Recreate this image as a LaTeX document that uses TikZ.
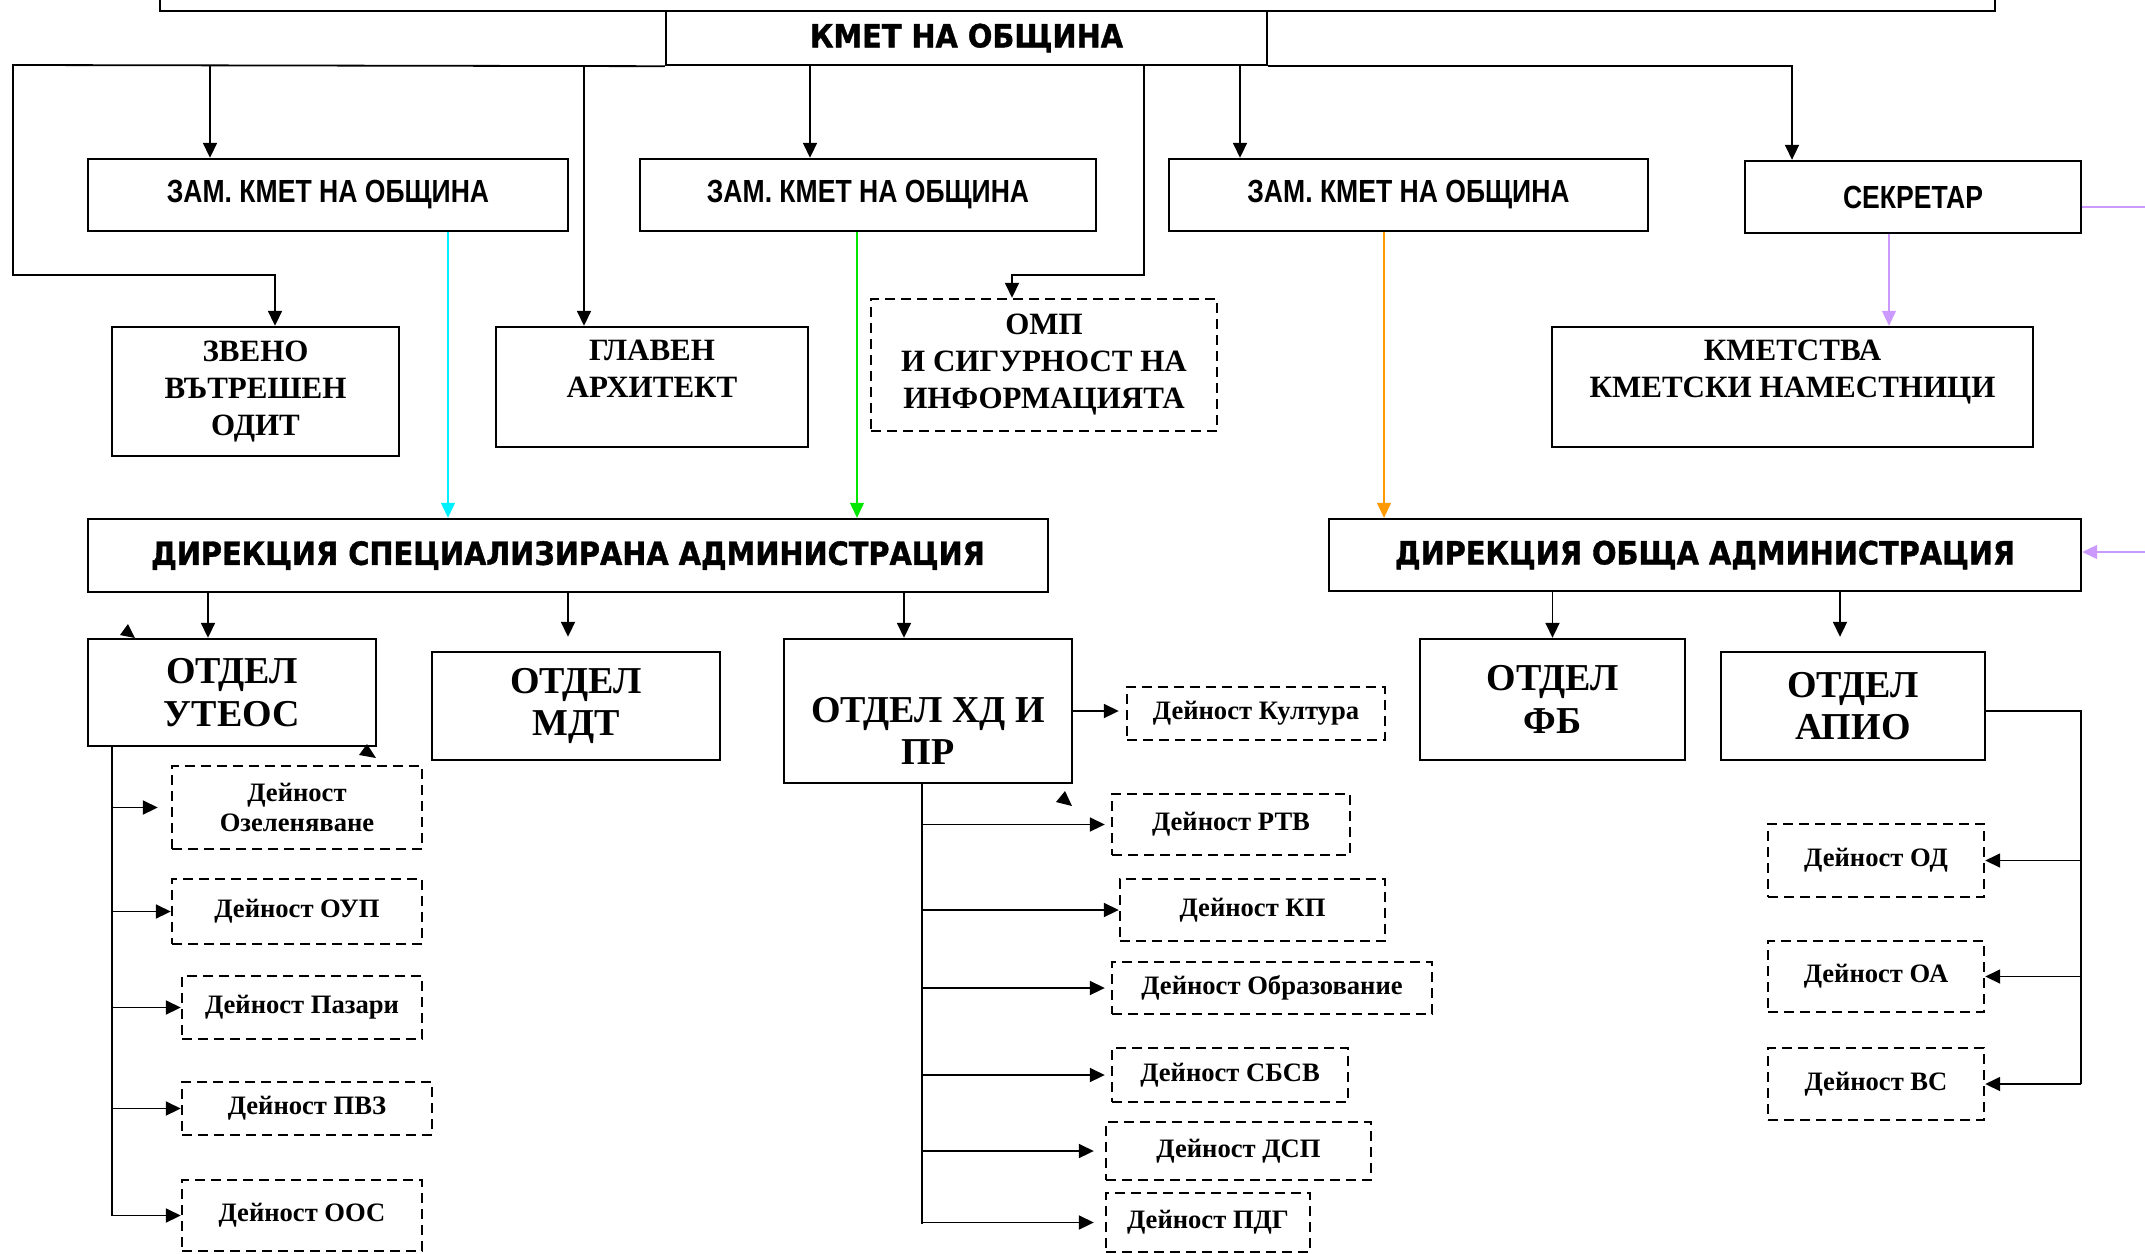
\documentclass[tikz,border=0pt]{standalone}
\usepackage{fontspec}
\setmainfont{Liberation Serif}
\newfontfamily\narrowsans[FakeStretch=0.83]{Liberation Sans}
\newfontfamily\heavysans[FakeStretch=0.9,FakeBold=1.2]{DejaVu Sans}
\usepackage{tikz}
\usetikzlibrary{arrows.meta}

\definecolor{linkcyan}{RGB}{0,240,255}
\definecolor{linkgreen}{RGB}{0,230,0}
\definecolor{linkorange}{RGB}{255,153,0}
\definecolor{linkpurple}{RGB}{204,153,255}

\tikzset{
  box/.style={shape=rectangle,draw=black,line width=1.2pt,inner sep=0pt,align=center},
  boss/.style={box,font=\heavysans\bfseries\fontsize{16pt}{19pt}\selectfont},
  deputy/.style={box,font=\narrowsans\bfseries\fontsize{16pt}{19pt}\selectfont},
  unit/.style={box,font=\bfseries\fontsize{15.5pt}{18.5pt}\selectfont},
  dept/.style={box,font=\bfseries\fontsize{19pt}{21.3pt}\selectfont},
  task/.style={box,dash pattern=on 5pt off 3pt,font=\bfseries\fontsize{13.3pt}{15pt}\selectfont},
  colorlink/.style={->,line width=0.6pt},
}

\begin{document}
\begin{tikzpicture}[x=0.5pt,y=-0.5pt,line width=0.9pt,>={Triangle[length=7.5pt,width=7pt]}]
  \useasboundingbox (0,0) rectangle (2145,1253);
  \clip (0,0) rectangle (2145,1253);

  % top level
  \node[box,minimum width=917.5pt,minimum height=55.5pt] (header) at (1077.5,-44.5) {};
  \node[boss,minimum width=300.5pt,minimum height=27pt] (mayor) at (966.5,38) {КМЕТ НА ОБЩИНА};
  \node[deputy,minimum width=240pt,minimum height=36pt] (dep1) at (328,195) {ЗАМ. КМЕТ НА ОБЩИНА};
  \node[deputy,minimum width=228pt,minimum height=36pt] (dep2) at (868,195) {ЗАМ. КМЕТ НА ОБЩИНА};
  \node[deputy,minimum width=239.5pt,minimum height=36pt] (dep3) at (1408.5,195) {ЗАМ. КМЕТ НА ОБЩИНА};
  \node[deputy,minimum width=168pt,minimum height=36pt] (secr) at (1913,197) {СЕКРЕТАР};

  \node[unit,minimum width=143.5pt,minimum height=64.5pt] (audit) at (255.5,391.5) {ЗВЕНО\\ВЪТРЕШЕН\\ОДИТ};
  \node[unit,minimum width=156pt,minimum height=60pt] (archit) at (652,387) {ГЛАВЕН\\АРХИТЕКТ\\\mbox{}};
  \node[unit,dash pattern=on 5pt off 3pt,minimum width=173pt,minimum height=66pt] (omp) at (1044,365) {ОМП\\И СИГУРНОСТ НА\\ИНФОРМАЦИЯТА};
  \node[unit,minimum width=240.5pt,minimum height=60pt] (kmetstva) at (1792.5,387) {КМЕТСТВА\\КМЕТСКИ НАМЕСТНИЦИ\\\mbox{}};

  % directorates
  \node[boss,minimum width=480pt,minimum height=36.5pt] (dspec) at (568,555.5) {ДИРЕКЦИЯ СПЕЦИАЛИЗИРАНА АДМИНИСТРАЦИЯ};
  \node[boss,minimum width=376pt,minimum height=36pt] (dobsh) at (1705,555) {ДИРЕКЦИЯ ОБЩА АДМИНИСТРАЦИЯ};

  % departments
  \node[dept,minimum width=144pt,minimum height=53.5pt] (uteos) at (232,692.5) {ОТДЕЛ\\УТЕОС};
  \node[dept,minimum width=144pt,minimum height=54pt] (mdt) at (576,706) {ОТДЕЛ\\МДТ};
  \node[dept,minimum width=144pt,minimum height=72pt] (hd) at (928,711) {\mbox{}\\[11pt]ОТДЕЛ ХД И\\ПР};
  \node[dept,minimum width=132.5pt,minimum height=60.5pt] (fb) at (1552.5,699.5) {ОТДЕЛ\\ФБ};
  \node[dept,minimum width=132pt,minimum height=54pt] (apio) at (1853,706) {ОТДЕЛ\\АПИО};

  % activities
  \node[task,minimum width=125pt,minimum height=41.5pt] (ozel) at (297,807.5) {Дейност\\Озеленяване};
  \node[task,minimum width=125pt,minimum height=32.5pt] (oup) at (297,911.5) {Дейност ОУП};
  \node[task,minimum width=120pt,minimum height=31.5pt] (pazari) at (302,1007.5) {Дейност Пазари};
  \node[task,minimum width=125pt,minimum height=26.5pt] (pvz) at (307,1108.5) {Дейност ПВЗ};
  \node[task,minimum width=120pt,minimum height=35.5pt] (oos) at (302,1215.5) {Дейност ООС};

  \node[task,minimum width=129pt,minimum height=26.5pt] (kultura) at (1256,713.5) {Дейност Култура};
  \node[task,minimum width=119pt,minimum height=30.5pt] (rtv) at (1231,824.5) {Дейност РТВ};
  \node[task,minimum width=132.5pt,minimum height=31pt] (kp) at (1252.5,910) {Дейност КП};
  \node[task,minimum width=160pt,minimum height=26pt] (obraz) at (1272,988) {Дейност Образование};
  \node[task,minimum width=118pt,minimum height=27pt] (sbsv) at (1230,1075) {Дейност СБСВ};
  \node[task,minimum width=132.5pt,minimum height=29pt] (dsp) at (1238.5,1151) {Дейност ДСП};
  \node[task,minimum width=102pt,minimum height=29.5pt] (pdg) at (1208,1222.5) {Дейност ПДГ};

  \node[task,minimum width=108pt,minimum height=36.5pt] (od) at (1876,860.5) {Дейност ОД};
  \node[task,minimum width=108pt,minimum height=35.5pt] (oa) at (1876,976.5) {Дейност ОА};
  \node[task,minimum width=108pt,minimum height=36pt] (vs) at (1876,1084) {Дейност ВС};

  % mayor links
  \coordinate (lcorner) at (13,65);
  \coordinate (lbend) at (13,275);
  \draw[->] (mayor.south west) -- (lcorner) -- (lbend) -| ([xshift=9.75pt]audit.north);
  \draw[->] ([xshift=-59pt]dep1.north |- mayor.south) -- ([xshift=-59pt]dep1.north);
  \draw[->] ([xshift=-34pt]archit.north |- mayor.south) -- ([xshift=-34pt]archit.north);
  \draw[->] ([xshift=-29pt]dep2.north |- mayor.south) -- ([xshift=-29pt]dep2.north);
  \coordinate (ompbend) at (1144,275);
  \draw[->] (ompbend |- mayor.south) -- (ompbend) -| ([xshift=-16pt]omp.north);
  \draw[->] ([xshift=-84.25pt]dep3.north |- mayor.south) -- ([xshift=-84.25pt]dep3.north);
  \draw[->] (mayor.south east) -| ([xshift=-60.5pt]secr.north);

  % deputies and secretary
  \draw[colorlink,linkcyan] ([xshift=60pt]dep1.south) -- ([xshift=60pt]dep1.south |- dspec.north);
  \draw[colorlink,linkgreen] ([xshift=-5.5pt]dep2.south) -- ([xshift=-5.5pt]dep2.south |- dspec.north);
  \draw[colorlink,linkorange] ([xshift=-12.25pt]dep3.south) -- ([xshift=-12.25pt]dep3.south |- dobsh.north);
  \draw[colorlink,linkpurple] ([xshift=-12pt]secr.south) -- ([xshift=-12pt]secr.south |- kmetstva.north);
  \coordinate (pturn1) at (2200,207);
  \coordinate (pturn2) at (2200,552);
  \draw[colorlink,linkpurple] ([yshift=-5pt]secr.east) -- (pturn1) -- (pturn2) -- (pturn2 -| dobsh.east);

  % directorates to departments
  \draw[->] ([xshift=-12pt]uteos.north |- dspec.south) -- ([xshift=-12pt]uteos.north);
  \draw[->,shorten >=7pt] ([xshift=-4pt]mdt.north |- dspec.south) -- ([xshift=-4pt]mdt.north);
  \draw[->] ([xshift=-12pt]hd.north |- dspec.south) -- ([xshift=-12pt]hd.north);
  \draw[->] (fb.north |- dobsh.south) -- (fb.north);
  \draw[->,shorten >=7pt] ([xshift=-6.5pt]apio.north |- dobsh.south) -- ([xshift=-6.5pt]apio.north);

  % UTEOS
  \coordinate (ubus) at (112,1216);
  \draw ([xshift=-60pt]uteos.south) -- (ubus);
  \draw[->,shorten >=6.5pt] (ubus |- ozel.west) -- (ozel.west);
  \draw[->] (ubus |- oup.west) -- (oup.west);
  \draw[->] (ubus |- pazari.west) -- (pazari.west);
  \draw[->] (ubus |- pvz.west) -- (pvz.west);
  \draw[->] (ubus |- oos.west) -- (oos.west);

  % HD i PR
  \coordinate (hbus) at (922,1224);
  \draw ([xshift=-3pt]hd.south) -- (hbus);
  \draw[->,shorten >=3.5pt] (hd.east) -- (hd.east -| kultura.west);
  \draw[->,shorten >=3pt] (hbus |- rtv.west) -- (rtv.west);
  \draw[->] (hbus |- kp.west) -- (kp.west);
  \draw[->,shorten >=3pt] (hbus |- obraz.west) -- (obraz.west);
  \draw[->,shorten >=3pt] (hbus |- sbsv.west) -- (sbsv.west);
  \draw[->,shorten >=5.5pt] (hbus |- dsp.west) -- (dsp.west);
  \draw[->,shorten >=5.5pt] (hbus |- pdg.west) -- (pdg.west);

  % APIO
  \coordinate (abus) at (2081,1084);
  \draw ([yshift=-2.5pt]apio.east) -| (abus);
  \draw[->] (abus |- od.east) -- (od.east);
  \draw[->] (abus |- oa.east) -- (oa.east);
  \draw[->] (abus |- vs.east) -- (vs.east);

  % stray tips
  \fill (120,635) -- (128,624) -- (135,638) -- cycle;
  \fill (359,755) -- (367,744) -- (376,758) -- cycle;
  \fill (1056,802) -- (1065,791) -- (1072,806) -- cycle;
\end{tikzpicture}
\end{document}
